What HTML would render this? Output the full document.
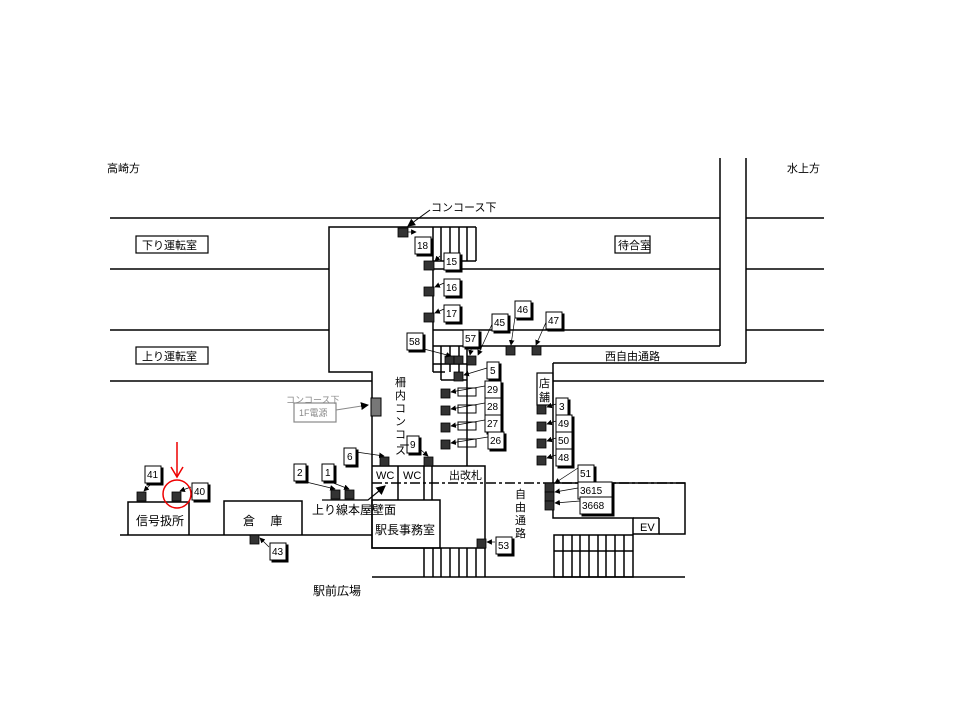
<!DOCTYPE html>
<html><head><meta charset="utf-8"><style>
body{margin:0;background:#fff}
svg{display:block}
text{font-family:"Liberation Sans","Noto Sans CJK JP",sans-serif;font-size:11px;fill:#000}
.n{font-size:10px}
</style></head><body>
<svg width="960" height="720" viewBox="0 0 960 720" xmlns="http://www.w3.org/2000/svg">
<defs>
<marker id="ah" markerWidth="8" markerHeight="8" refX="7" refY="4" orient="auto"><path d="M0,0 L8,4 L0,8z" fill="#000"/></marker>
</defs>
<g stroke="#000" stroke-width="1.5" fill="none">
<!-- tracks -->
<line x1="110" y1="218" x2="720" y2="218"/>
<line x1="746" y1="218" x2="824" y2="218"/>
<line x1="110" y1="269" x2="329" y2="269"/>
<line x1="433" y1="269" x2="720" y2="269"/>
<line x1="746" y1="269" x2="824" y2="269"/>
<line x1="110" y1="330" x2="329" y2="330"/>
<line x1="433" y1="330" x2="720" y2="330"/>
<line x1="746" y1="330" x2="824" y2="330"/>
<line x1="110" y1="381" x2="372" y2="381"/>
<line x1="553" y1="381" x2="824" y2="381"/>
<line x1="720" y1="158" x2="720" y2="346"/>
<line x1="746" y1="158" x2="746" y2="363"/>
<line x1="433" y1="346" x2="720" y2="346"/>
<line x1="553" y1="363" x2="746" y2="363"/>
<line x1="553" y1="363" x2="553" y2="483"/>
<!-- concourse -->
<polyline points="433,227 329,227 329,372 372,372 372,548 485,548 485,466 372,466"/>
<line x1="433" y1="227" x2="433" y2="372"/>
<line x1="433" y1="372" x2="445" y2="372"/>
<line x1="476" y1="227" x2="476" y2="261"/>
<line x1="433" y1="227" x2="476" y2="227"/>
<line x1="433" y1="261" x2="476" y2="261"/>
<line x1="441" y1="227" x2="441" y2="261"/>
<line x1="450" y1="227" x2="450" y2="261"/>
<line x1="459" y1="227" x2="459" y2="261"/>
<line x1="467" y1="227" x2="467" y2="261"/>
<line x1="441" y1="346" x2="441" y2="380"/>
<line x1="450" y1="346" x2="450" y2="372"/>
<line x1="459" y1="346" x2="459" y2="372"/>
<line x1="433" y1="364" x2="467" y2="364"/>
<line x1="441" y1="380" x2="467" y2="380"/>
<line x1="467" y1="346" x2="467" y2="466"/>
<line x1="398" y1="466" x2="398" y2="500"/>
<line x1="424" y1="466" x2="424" y2="500"/>
<line x1="432" y1="458" x2="432" y2="500"/>
<rect x="372" y="500" width="68" height="48"/>
<line x1="372" y1="483" x2="685" y2="483" stroke-dasharray="10,3,3,3"/>
<!-- bottom stairs -->
<line x1="372" y1="577" x2="685" y2="577"/>
<line x1="424" y1="548" x2="424" y2="577"/><line x1="433" y1="548" x2="433" y2="577"/><line x1="441" y1="548" x2="441" y2="577"/><line x1="450" y1="548" x2="450" y2="577"/><line x1="459" y1="548" x2="459" y2="577"/><line x1="467" y1="548" x2="467" y2="577"/><line x1="476" y1="548" x2="476" y2="577"/>
<line x1="485" y1="548" x2="485" y2="577"/>
<!-- right block -->
<polyline points="553,483 553,518 633,518 633,534 659,534 659,518"/>
<polyline points="553,483 685,483 685,534 659,534"/>
<line x1="633" y1="518" x2="659" y2="518"/>
<rect x="554" y="535" width="79" height="42"/>
<line x1="554" y1="551" x2="633" y2="551"/>
<line x1="563" y1="535" x2="563" y2="577"/><line x1="572" y1="535" x2="572" y2="577"/><line x1="580" y1="535" x2="580" y2="577"/><line x1="589" y1="535" x2="589" y2="577"/><line x1="598" y1="535" x2="598" y2="577"/><line x1="606" y1="535" x2="606" y2="577"/><line x1="615" y1="535" x2="615" y2="577"/><line x1="624" y1="535" x2="624" y2="577"/>
<!-- left buildings -->
<line x1="120" y1="535" x2="372" y2="535"/>
<polyline points="128,535 128,502 189,502 189,535"/>
<polyline points="224,535 224,501 302,501 302,535"/>
<polyline points="322,500 368,500 385,486" marker-end="url(#ah)" stroke-width="1.2"/>
<!-- label boxes -->
<rect x="136" y="236" width="72" height="17" stroke-width="1.2"/>
<rect x="136" y="347" width="72" height="17" stroke-width="1.2"/>
<rect x="615" y="236" width="35" height="17" stroke-width="1.2"/>
<rect x="537" y="373" width="16" height="32" stroke-width="1.2"/>
<rect x="294" y="403" width="42" height="19" stroke="#888" stroke-width="1.2"/>
<line x1="336" y1="410" x2="368" y2="405" stroke="#888" stroke-width="1" marker-end="url(#ah)"/>
<line x1="430" y1="210" x2="408" y2="226" stroke-width="1" marker-end="url(#ah)"/>
<!-- white rects -->
<rect x="458" y="388" width="18" height="8" stroke-width="1"/>
<rect x="458" y="405" width="18" height="8" stroke-width="1"/>
<rect x="458" y="422" width="18" height="8" stroke-width="1"/>
<rect x="458" y="439" width="18" height="8" stroke-width="1"/>
</g>
<rect x="371" y="398" width="10" height="18" fill="#777" stroke="#000"/>
<!-- markers -->
<g fill="#333" stroke="#000" stroke-width="0.8">
<rect x="398" y="228" width="10" height="9"/>
<rect x="424" y="261" width="10" height="9"/>
<rect x="424" y="287" width="10" height="9"/>
<rect x="424" y="313" width="10" height="9"/>
<rect x="445" y="356" width="9" height="8"/><rect x="454" y="356" width="9" height="8"/>
<rect x="467" y="356" width="9" height="9"/>
<rect x="506" y="346" width="9" height="9"/><rect x="532" y="346" width="9" height="9"/>
<rect x="454" y="372" width="9" height="9"/>
<rect x="441" y="389" width="9" height="9"/><rect x="441" y="406" width="9" height="9"/><rect x="441" y="423" width="9" height="9"/><rect x="441" y="440" width="9" height="9"/>
<rect x="537" y="405" width="9" height="9"/><rect x="537" y="422" width="9" height="9"/><rect x="537" y="439" width="9" height="9"/><rect x="537" y="456" width="9" height="9"/>
<rect x="545" y="483" width="9" height="9"/><rect x="545" y="492" width="9" height="9"/><rect x="545" y="501" width="9" height="9"/>
<rect x="424" y="457" width="9" height="9"/><rect x="380" y="457" width="9" height="9"/>
<rect x="331" y="490" width="9" height="9"/><rect x="345" y="490" width="9" height="9"/>
<rect x="137" y="492" width="9" height="9"/><rect x="172" y="492" width="9" height="9"/>
<rect x="250" y="535" width="9" height="9"/>
<rect x="477" y="539" width="9" height="9"/>
</g>
<!-- leader lines -->
<g stroke="#000" stroke-width="0.7" marker-end="url(#ah)" fill="none">
<line x1="408" y1="232" x2="416" y2="232"/>
<line x1="440" y1="256" x2="435" y2="261"/>
<line x1="444" y1="283" x2="435" y2="287"/>
<line x1="444" y1="309" x2="435" y2="313"/>
<line x1="420" y1="348" x2="451" y2="356"/>
<line x1="472" y1="345" x2="470" y2="355"/>
<line x1="493" y1="322" x2="478" y2="355"/>
<line x1="516" y1="310" x2="511" y2="345"/>
<line x1="547" y1="320" x2="536" y2="345"/>
<line x1="487" y1="368" x2="464" y2="375"/>
<line x1="485" y1="386" x2="451" y2="392"/><line x1="485" y1="403" x2="451" y2="409"/><line x1="485" y1="420" x2="451" y2="426"/><line x1="488" y1="437" x2="451" y2="443"/>
<line x1="556" y1="404" x2="547" y2="407"/><line x1="556" y1="421" x2="547" y2="424"/><line x1="556" y1="438" x2="547" y2="441"/><line x1="556" y1="455" x2="547" y2="458"/>
<line x1="578" y1="468" x2="555" y2="483"/><line x1="578" y1="488" x2="555" y2="492"/><line x1="580" y1="501" x2="555" y2="503"/>
<line x1="414" y1="444" x2="428" y2="456"/><line x1="356" y1="452" x2="384" y2="456"/>
<line x1="302" y1="481" x2="335" y2="489"/><line x1="328" y1="481" x2="349" y2="489"/>
<line x1="152" y1="483" x2="144" y2="491"/><line x1="191" y1="487" x2="180" y2="491"/>
<line x1="269" y1="547" x2="260" y2="538"/>
<line x1="495" y1="542" x2="487" y2="542"/>
</g>
<!-- number boxes -->
<g stroke="#000" stroke-width="1">
<g fill="#000">
<rect x="417" y="239" width="16" height="17"/><rect x="446" y="255" width="16" height="17"/><rect x="446" y="281" width="16" height="17"/><rect x="446" y="307" width="16" height="17"/>
<rect x="409" y="335" width="16" height="17"/><rect x="465" y="332" width="16" height="17"/><rect x="494" y="316" width="16" height="17"/><rect x="517" y="303" width="16" height="17"/><rect x="548" y="314" width="16" height="17"/>
<rect x="489" y="364" width="12" height="17"/><rect x="487" y="383" width="16" height="17"/><rect x="487" y="400" width="16" height="17"/><rect x="487" y="417" width="16" height="17"/><rect x="490" y="434" width="16" height="17"/>
<rect x="558" y="400" width="12" height="17"/><rect x="558" y="417" width="16" height="17"/><rect x="558" y="434" width="16" height="17"/><rect x="558" y="451" width="16" height="17"/>
<rect x="580" y="467" width="16" height="17"/><rect x="580" y="484" width="34" height="17"/><rect x="582" y="499" width="32" height="17"/>
<rect x="409" y="438" width="12" height="17"/><rect x="346" y="450" width="12" height="17"/><rect x="296" y="466" width="12" height="17"/><rect x="324" y="466" width="12" height="17"/>
<rect x="147" y="468" width="16" height="17"/><rect x="194" y="485" width="16" height="17"/><rect x="272" y="545" width="16" height="17"/><rect x="498" y="539" width="16" height="17"/>
</g>
<g fill="#fff">
<rect x="415" y="237" width="16" height="17"/><rect x="444" y="253" width="16" height="17"/><rect x="444" y="279" width="16" height="17"/><rect x="444" y="305" width="16" height="17"/>
<rect x="407" y="333" width="16" height="17"/><rect x="463" y="330" width="16" height="17"/><rect x="492" y="314" width="16" height="17"/><rect x="515" y="301" width="16" height="17"/><rect x="546" y="312" width="16" height="17"/>
<rect x="487" y="362" width="12" height="17"/><rect x="485" y="381" width="16" height="17"/><rect x="485" y="398" width="16" height="17"/><rect x="485" y="415" width="16" height="17"/><rect x="488" y="432" width="16" height="17"/>
<rect x="556" y="398" width="12" height="17"/><rect x="556" y="415" width="16" height="17"/><rect x="556" y="432" width="16" height="17"/><rect x="556" y="449" width="16" height="17"/>
<rect x="578" y="465" width="16" height="17"/><rect x="578" y="482" width="34" height="17"/><rect x="580" y="497" width="32" height="17"/>
<rect x="407" y="436" width="12" height="17"/><rect x="344" y="448" width="12" height="17"/><rect x="294" y="464" width="12" height="17"/><rect x="322" y="464" width="12" height="17"/>
<rect x="145" y="466" width="16" height="17"/><rect x="192" y="483" width="16" height="17"/><rect x="270" y="543" width="16" height="17"/><rect x="496" y="537" width="16" height="17"/>
</g>
</g>
<g class="n">
<text class="n" x="417" y="249">18</text><text class="n" x="446" y="265">15</text><text class="n" x="446" y="291">16</text><text class="n" x="446" y="317">17</text>
<text class="n" x="409" y="345">58</text><text class="n" x="465" y="342">57</text><text class="n" x="494" y="326">45</text><text class="n" x="517" y="313">46</text><text class="n" x="548" y="324">47</text>
<text class="n" x="490" y="374">5</text><text class="n" x="487" y="393">29</text><text class="n" x="487" y="410">28</text><text class="n" x="487" y="427">27</text><text class="n" x="490" y="444">26</text>
<text class="n" x="559" y="410">3</text><text class="n" x="558" y="427">49</text><text class="n" x="558" y="444">50</text><text class="n" x="558" y="461">48</text>
<text class="n" x="580" y="477">51</text><text class="n" x="580" y="494">3615</text><text class="n" x="582" y="509">3668</text>
<text class="n" x="410" y="448">9</text><text class="n" x="347" y="460">6</text><text class="n" x="297" y="476">2</text><text class="n" x="325" y="476">1</text>
<text class="n" x="147" y="478">41</text><text class="n" x="194" y="495">40</text><text class="n" x="272" y="555">43</text><text class="n" x="498" y="549">53</text>
</g>
<!-- texts -->
<text x="107" y="172">高崎方</text>
<text x="787" y="172">水上方</text>
<text x="142" y="249">下り運転室</text>
<text x="142" y="360">上り運転室</text>
<text x="618" y="249">待合室</text>
<text x="605" y="360">西自由通路</text>
<text x="539" y="387">店</text><text x="539" y="401">舗</text>
<text x="431" y="211">コンコース下</text>
<text x="286" y="403" style="font-size:9px;fill:#888">コンコース下</text>
<text x="299" y="416" style="font-size:9px;fill:#888">1F電源</text>
<text x="395" y="386">柵</text><text x="395" y="399">内</text><text x="395" y="412">コ</text><text x="395" y="425">ン</text><text x="395" y="438">コ</text><text x="399" y="449">ー</text><text x="395" y="454">ス</text>
<text x="376" y="479">WC</text><text x="403" y="479">WC</text>
<text x="449" y="479">出改札</text>
<text x="515" y="498">自</text><text x="515" y="511">由</text><text x="515" y="524">通</text><text x="515" y="537">路</text>
<text x="375" y="534" style="font-size:12px">駅長事務室</text>
<text x="312" y="514" style="font-size:12px">上り線本屋壁面</text>
<text x="136" y="525" style="font-size:12px">信号扱所</text>
<text x="243" y="525" style="font-size:12px">倉　 庫</text>
<text x="313" y="595" style="font-size:12px">駅前広場</text>
<text x="640" y="531">EV</text>
<!-- red -->
<circle cx="177" cy="494" r="14" fill="none" stroke="#e00" stroke-width="1.5"/>
<line x1="177" y1="442" x2="177" y2="476" stroke="#e00" stroke-width="1.5"/>
<path d="M171,467 L177,477 L183,467" fill="none" stroke="#e00" stroke-width="1.5"/>
</svg>
</body></html>
